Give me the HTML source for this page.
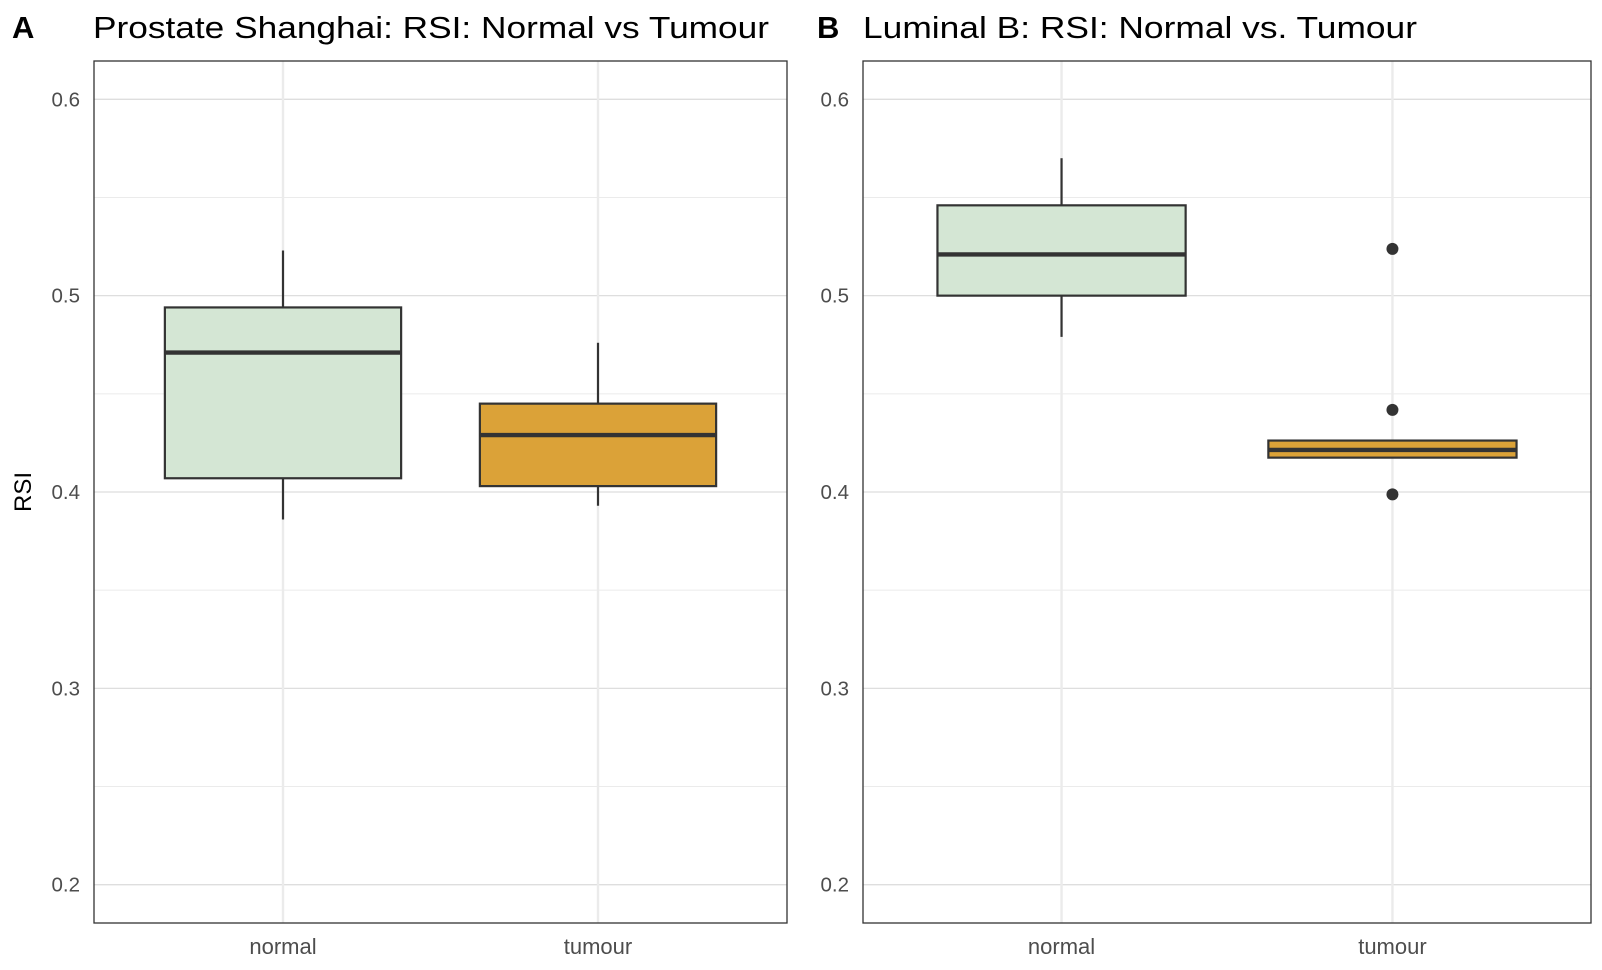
<!DOCTYPE html>
<html><head><meta charset="utf-8"><style>
html,body{margin:0;padding:0;background:#fff;}
svg{display:block;font-family:"Liberation Sans",Arial,sans-serif;}
</style></head><body>
<svg id="chart" width="1602" height="970" viewBox="0 0 1602 970" xmlns="http://www.w3.org/2000/svg">
<text x="12" y="38" font-size="31" font-weight="bold" fill="#000">A</text>
<text x="93" y="38" font-size="31" fill="#000" textLength="676" lengthAdjust="spacingAndGlyphs">Prostate Shanghai: RSI: Normal vs Tumour</text>
<text x="817" y="38" font-size="31" font-weight="bold" fill="#000">B</text>
<text x="863" y="38" font-size="31" fill="#000" textLength="554" lengthAdjust="spacingAndGlyphs">Luminal B: RSI: Normal vs. Tumour</text>
<text transform="translate(31,492) rotate(-90)" text-anchor="middle" font-size="24" fill="#000">RSI</text>
<g id="pA"></g>
<g id="pB"></g>
</svg>
<script>
const categories = ["normal","tumour"];
const yTicks = [0.2,0.3,0.4,0.5,0.6];
const yMinor = [0.25,0.35,0.45,0.55];
const fills = ["#d4e6d4","#dba238"];
// stats: [lowerWhisker, q1, median, q3, upperWhisker]
const statsA = [[0.386,0.407,0.471,0.494,0.523],[0.393,0.403,0.429,0.445,0.476]];
const outliersA = [[],[]];
const statsB = [[0.479,0.500,0.521,0.546,0.570],[0.4175,0.4175,0.4214,0.4262,0.4262]];
const outliersB = [[],[0.5238,0.4418,0.3988]];

const NS="http://www.w3.org/2000/svg";
function mk(tag,attrs,parent){const e=document.createElementNS(NS,tag);for(const k in attrs)e.setAttribute(k,attrs[k]);parent.appendChild(e);return e;}
function y(v){return 99.3+(0.6-v)/0.4*785.4;}

function panel(g,x0,x1,stats,outs){
  const top=61,bot=923,n=categories.length;
  const unit=(x1-x0)/(n-1+1.2);
  const xc=i=>x0+unit*(0.6+i);
  const hw=unit*0.375;
  yMinor.forEach(v=>{const l=mk('line',{x1:x0,x2:x1,y1:y(v),y2:y(v),stroke:'#ebebeb','stroke-width':1},g);
    
    });
  yTicks.forEach(v=>{const l=mk('line',{x1:x0,x2:x1,y1:y(v),y2:y(v),stroke:'#dedede','stroke-width':1.3},g);
    
    
    const t=mk('text',{x:x0-14,y:y(v)+7,'text-anchor':'end','font-size':20.5,fill:'#4d4d4d'},g);t.textContent=v.toFixed(1);
    
    });
  categories.forEach((c,i)=>{const l=mk('line',{x1:xc(i),x2:xc(i),y1:top,y2:bot,stroke:'#ebebeb','stroke-width':2.4},g);
    
    
    const t=mk('text',{x:xc(i),y:954,'text-anchor':'middle','font-size':22,fill:'#4d4d4d'},g);t.textContent=c;
    
    });
  stats.forEach((s,i)=>{
    const cx=xc(i);
    const w1=mk('line',{x1:cx,x2:cx,y1:y(s[0]),y2:y(s[1]),stroke:'#333','stroke-width':2.2},g);
    
    
    const w2=mk('line',{x1:cx,x2:cx,y1:y(s[4]),y2:y(s[3]),stroke:'#333','stroke-width':2.2},g);
    
    
    const r=mk('rect',{x:cx-hw,y:y(s[3]),width:2*hw,height:y(s[1])-y(s[3]),fill:fills[i],stroke:'#333','stroke-width':2.2},g);
    
    
    const m=mk('line',{x1:cx-hw,x2:cx+hw,y1:y(s[2]),y2:y(s[2]),stroke:'#333','stroke-width':4.4},g);
    
    
    outs[i].forEach(v=>{const p=mk('circle',{cx:cx,cy:y(v),r:6,fill:'#333'},g);
      
      });
  });
  const b=mk('rect',{x:x0,y:top,width:x1-x0,height:bot-top,fill:'none',stroke:'#333','stroke-width':1.3},g);
  
  
}
panel(document.getElementById('pA'),94,787,statsA,outliersA);
panel(document.getElementById('pB'),863,1591,statsB,outliersB);
</script>
</body></html>
